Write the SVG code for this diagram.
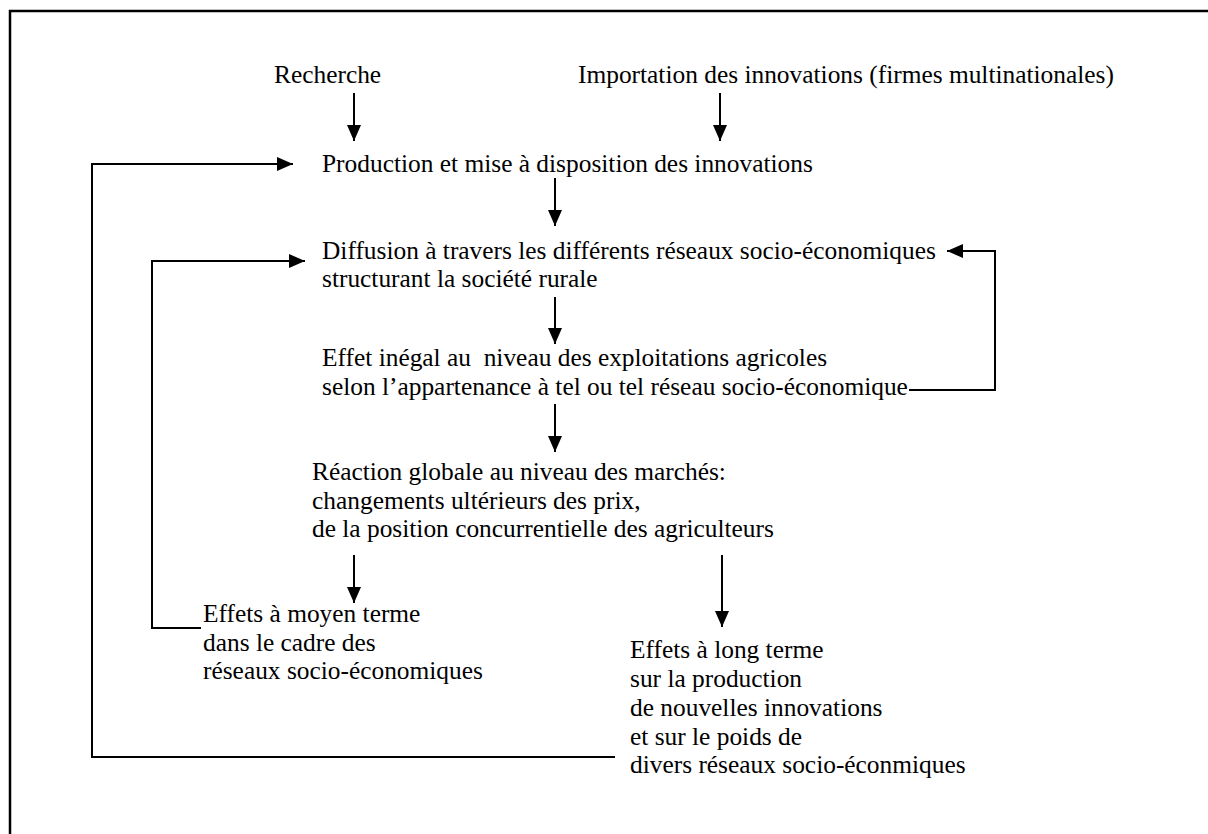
<svg xmlns="http://www.w3.org/2000/svg" width="1208" height="834" viewBox="0 0 1208 834">
  <style>
    text { font-family: "Liberation Serif", "Times New Roman", serif; font-size: 25.4px; fill: #000; white-space: pre; }
    .frame { fill: none; stroke: #000; stroke-width: 2.5; }
    .link { fill: none; stroke: #000; stroke-width: 2; }
  </style>
  <defs>
    <marker id="arrow" markerUnits="userSpaceOnUse" markerWidth="16" markerHeight="14" refX="16" refY="7" orient="auto">
      <path d="M0,0 L16,7 L0,14 Z" fill="#000"/>
    </marker>
  </defs>

  <rect width="1208" height="834" fill="#fff"/>
  <!-- page frame: only left and top borders fall inside the view -->
  <path class="frame" d="M10,834 V11 H1208"/>

  <g id="recherche"><text x="274" y="83">Recherche</text></g>
  <g id="importation"><text x="578" y="83">Importation des innovations (firmes multinationales)</text></g>
  <g id="production"><text x="322" y="172">Production et mise à disposition des innovations</text></g>
  <g id="diffusion">
    <text x="322" y="259">Diffusion à travers les différents réseaux socio-économiques</text>
    <text x="322" y="287">structurant la société rurale</text>
  </g>
  <g id="effet-inegal">
    <text x="322" y="366">Effet inégal au  niveau des exploitations agricoles</text>
    <text x="322" y="395">selon l’appartenance à tel ou tel réseau socio-économique</text>
  </g>
  <g id="reaction">
    <text x="312" y="480">Réaction globale au niveau des marchés:</text>
    <text x="312" y="509">changements ultérieurs des prix,</text>
    <text x="312" y="537">de la position concurrentielle des agriculteurs</text>
  </g>
  <g id="moyen-terme">
    <text x="203" y="622">Effets à moyen terme</text>
    <text x="203" y="651">dans le cadre des</text>
    <text x="203" y="679">réseaux socio-économiques</text>
  </g>
  <g id="long-terme">
    <text x="630" y="658">Effets à long terme</text>
    <text x="630" y="687">sur la production</text>
    <text x="630" y="716">de nouvelles innovations</text>
    <text x="630" y="745">et sur le poids de</text>
    <text x="630" y="773">divers réseaux socio-éconmiques</text>
  </g>

  <g id="connectors">
    <line class="link" x1="354" y1="93" x2="354" y2="141" marker-end="url(#arrow)"/>
    <line class="link" x1="720" y1="93" x2="720" y2="141" marker-end="url(#arrow)"/>
    <line class="link" x1="555" y1="178" x2="555" y2="226" marker-end="url(#arrow)"/>
    <line class="link" x1="555" y1="297" x2="555" y2="344" marker-end="url(#arrow)"/>
    <line class="link" x1="555" y1="404" x2="555" y2="452" marker-end="url(#arrow)"/>
    <line class="link" x1="354" y1="555" x2="354" y2="603" marker-end="url(#arrow)"/>
    <line class="link" x1="722" y1="555" x2="722" y2="627" marker-end="url(#arrow)"/>
    <!-- long-term feedback to production -->
    <polyline class="link" points="615,757 92,757 92,164 293,164" marker-end="url(#arrow)"/>
    <!-- medium-term feedback to diffusion -->
    <polyline class="link" points="201,628 152,628 152,261 305,261" marker-end="url(#arrow)"/>
    <!-- farm-level feedback to diffusion -->
    <polyline class="link" points="909,390 995,390 995,251 947,251" marker-end="url(#arrow)"/>
  </g>
</svg>
